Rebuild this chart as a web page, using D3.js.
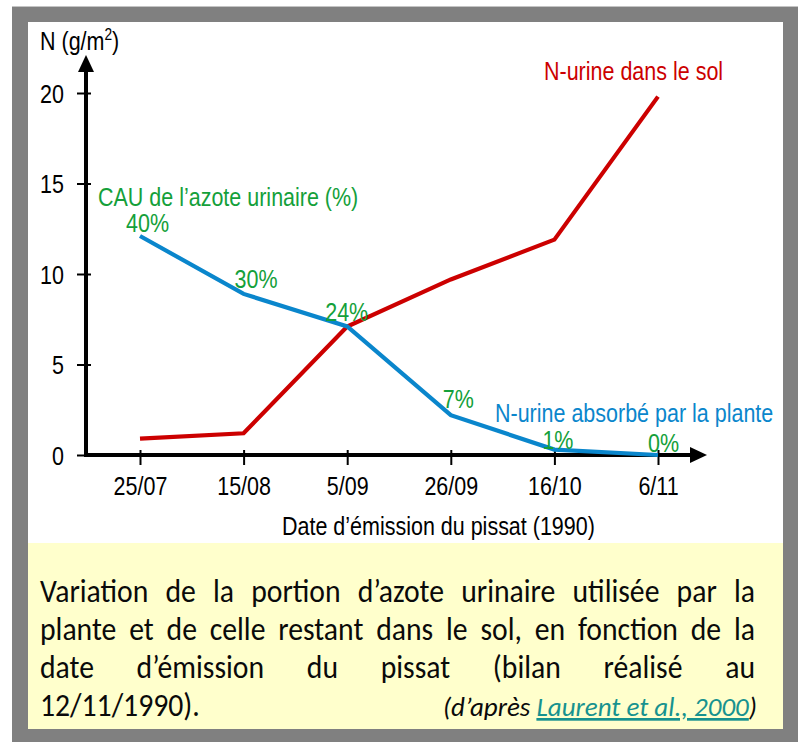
<!DOCTYPE html>
<html>
<head>
<meta charset="utf-8">
<script src="https://cdn.jsdelivr.net/npm/d3@7"></script>
<style>
  html, body { margin: 0; padding: 0; background: #ffffff; }
  svg { display: block; }
</style>
</head>
<body>
<svg id="chart" width="800" height="742"></svg>
<script>
// Emission dates of the urine patches (1990)
const dates = ["25/07", "15/08", "5/09", "26/09", "16/10", "6/11"];
// Urine nitrogen remaining in the soil (g/m²)
const soilN = [0.9, 1.2, 7.1, 9.7, 11.9, 19.8];
// Urine nitrogen taken up by the plant (g/m²)
const plantN = [12.1, 8.9, 7.1, 2.2, 0.3, 0.0];
// Apparent use coefficient of urine nitrogen, one per date
const cauLabels = ["40%", "30%", "24%", "7%", "1%", "0%"];
// Y axis tick values
const yTicks = [0, 5, 10, 15, 20];

const captionLines = [
  { text: "Variation de la portion d’azote urinaire utilisée par la", justify: true },
  { text: "plante et de celle restant dans le sol, en fonction de la", justify: true },
  { text: "date d’émission du pissat (bilan réalisé au", justify: true },
  { text: "12/11/1990).", justify: false }
];

const FONT = "'Liberation Sans', Arial, Helvetica, sans-serif";
const CAPFONT = "Carlito, Lato, 'Open Sans', sans-serif";
const SX = 0.86;           // narrow set of the chart lettering
const CSX = 0.9;           // narrow set of the caption lettering
const RED = "#cc0000", BLUE = "#0a86cc", GREEN = "#14a03a", LINK = "#17928f";

const svg = d3.select("#chart");

// frame, plot area and caption panel
svg.append("rect").attr("x", 12).attr("y", 6).attr("width", 786).attr("height", 736)
  .attr("fill", "#808080");
svg.append("line").attr("x1", 12).attr("x2", 798).attr("y1", 6.5).attr("y2", 6.5)
  .attr("stroke", "#c4c4c4").attr("stroke-width", 1);
svg.append("rect").attr("x", 28).attr("y", 22).attr("width", 755).attr("height", 707)
  .attr("fill", "#ffffff");
svg.append("rect").attr("x", 28).attr("y", 543).attr("width", 755).attr("height", 186)
  .attr("fill", "#ffffcc");

// scales
const x = d3.scalePoint().domain(dates).range([140, 658]);
const y = d3.scaleLinear().domain([0, 20]).range([455, 93]);
const x0 = 86;

function label(g, px, py, str, color, anchor) {
  return g.append("text")
    .attr("transform", `translate(${px},${py}) scale(${SX},1)`)
    .attr("text-anchor", anchor || "start")
    .attr("font-family", FONT).attr("font-size", 25)
    .attr("fill", color || "#000").text(str);
}

const plot = svg.append("g");

// y axis ticks and labels
const yAxis = d3.axisLeft(y).tickValues(yTicks).tickFormat(d3.format("d"));
const gy = plot.append("g").attr("transform", `translate(${x0},0)`).call(yAxis);
gy.select(".domain").remove();
gy.selectAll(".tick line").attr("x1", -9).attr("x2", 5)
  .attr("stroke", "#000").attr("stroke-width", 2);
gy.selectAll(".tick text")
  .attr("x", null).attr("dy", null).attr("y", null)
  .attr("transform", `translate(-22,9) scale(${SX},1)`)
  .attr("font-family", FONT).attr("font-size", 25).attr("fill", "#000");

// x axis ticks and labels
const xAxis = d3.axisBottom(x);
const gx = plot.append("g").attr("transform", `translate(0,${y(0)})`).call(xAxis);
gx.select(".domain").remove();
gx.selectAll(".tick line").attr("y1", -5).attr("y2", 10)
  .attr("stroke", "#000").attr("stroke-width", 2);
gx.selectAll(".tick text")
  .attr("y", null).attr("dy", null)
  .attr("transform", `translate(0,40) scale(${SX},1)`)
  .attr("text-anchor", "middle")
  .attr("font-family", FONT).attr("font-size", 25).attr("fill", "#000");

// axis lines with arrow heads
plot.append("line").attr("x1", x0).attr("x2", x0).attr("y1", y(0) + 2).attr("y2", 68)
  .attr("stroke", "#000").attr("stroke-width", 4);
plot.append("path").attr("d", `M${x0},55 L${x0 - 8},72 L${x0 + 8},72 Z`).attr("fill", "#000");
plot.append("line").attr("x1", x0 - 2).attr("x2", 694).attr("y1", y(0)).attr("y2", y(0))
  .attr("stroke", "#000").attr("stroke-width", 4);
plot.append("path").attr("d", `M707,${y(0)} L690,${y(0) - 8} L690,${y(0) + 8} Z`).attr("fill", "#000");

// axis titles
const yt = plot.append("text")
  .attr("transform", `translate(40,50) scale(${SX},1)`)
  .attr("font-family", FONT).attr("font-size", 25).attr("fill", "#000");
yt.append("tspan").text("N (g/m");
yt.append("tspan").attr("font-size", 16).attr("dy", -10).text("2");
yt.append("tspan").attr("dy", 10).text(")");
label(plot, 282, 535, "Date d’émission du pissat (1990)", "#000");

// data lines
const line = d3.line().x((d, i) => x(dates[i])).y(d => y(d));
plot.append("path").datum(soilN).attr("d", line)
  .attr("fill", "none").attr("stroke", RED).attr("stroke-width", 4.2)
  .attr("stroke-linejoin", "miter");
plot.append("path").datum(plantN).attr("d", line)
  .attr("fill", "none").attr("stroke", BLUE).attr("stroke-width", 4.2)
  .attr("stroke-linejoin", "miter");

// series names
label(plot, 544, 80, "N-urine dans le sol", RED);
label(plot, 495, 422, "N-urine absorbé par la plante", BLUE);
label(plot, 98, 206, "CAU de l’azote urinaire (%)", GREEN);

// CAU values next to the plant curve
const cauOffsets = [[-14, -4], [-9, -6], [-22, -5], [-8, -7], [-12, -1], [-10, -3]];
cauLabels.forEach((t, i) => {
  label(plot, x(dates[i]) + cauOffsets[i][0], y(plantN[i]) + cauOffsets[i][1], t, GREEN);
});

// caption, justified between the panel margins
const cap = svg.append("g");
const capLeft = 40, capRight = 755, capSize = 33, capBase = 602, capLead = 38;
captionLines.forEach((ln, li) => {
  const by = capBase + li * capLead;
  const words = ln.text.split(" ");
  const nodes = words.map(w => cap.append("text")
    .attr("font-family", CAPFONT).attr("font-size", capSize).attr("fill", "#0a0a0a")
    .text(w));
  const widths = nodes.map(n => n.node().getComputedTextLength() * CSX);
  const total = d3.sum(widths);
  let gap = capSize * 0.2 * CSX;
  if (ln.justify && words.length > 1) gap = (capRight - capLeft - total) / (words.length - 1);
  let cx = capLeft;
  nodes.forEach((n, i) => {
    n.attr("transform", `translate(${cx},${by}) scale(${CSX},1)`);
    cx += widths[i] + gap;
  });
});

// source reference
const src = cap.append("text")
  .attr("x", 757).attr("y", capBase + 3 * capLead)
  .attr("text-anchor", "end")
  .attr("font-family", CAPFONT).attr("font-size", 27).attr("font-style", "italic")
  .attr("fill", "#0a0a0a");
src.append("tspan").text("(d’après ");
src.append("tspan").attr("fill", LINK).attr("text-decoration", "underline").text("Laurent et al., 2000");
src.append("tspan").text(")");
</script>
</body>
</html>
